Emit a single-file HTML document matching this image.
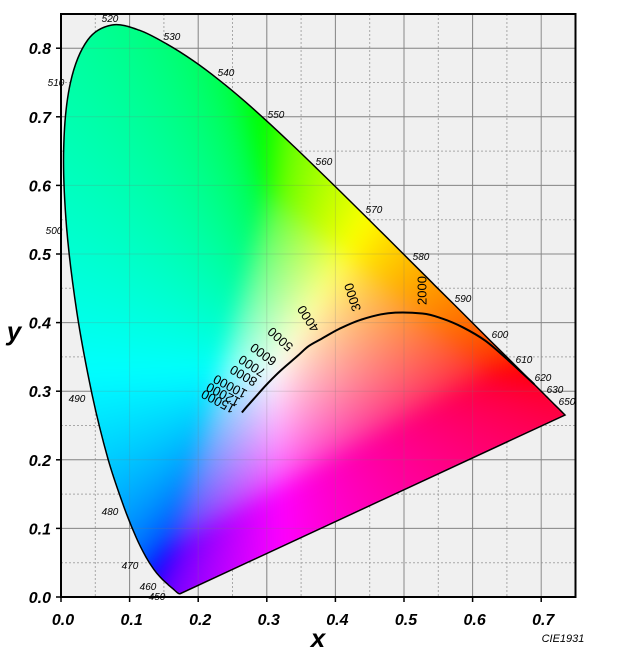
<!DOCTYPE html>
<html><head><meta charset="utf-8"><style>
html,body{margin:0;padding:0;background:#fff;}
#wrap{position:relative;width:630px;height:660px;overflow:hidden;font-family:"Liberation Sans",sans-serif;}
svg,canvas{position:absolute;left:0;top:0;}
</style></head><body><div id="wrap">
<svg width="630" height="660" id="bg">
<rect x="61" y="14" width="514.5" height="583" fill="#f0f0f0"/>
<g stroke="#a8a8a8" stroke-width="1" stroke-dasharray="2,2">
<line x1="95.3" y1="14" x2="95.3" y2="597"/><line x1="163.9" y1="14" x2="163.9" y2="597"/><line x1="232.5" y1="14" x2="232.5" y2="597"/><line x1="301.1" y1="14" x2="301.1" y2="597"/><line x1="369.7" y1="14" x2="369.7" y2="597"/><line x1="438.3" y1="14" x2="438.3" y2="597"/><line x1="506.9" y1="14" x2="506.9" y2="597"/>
<line x1="61" y1="562.7" x2="575.5" y2="562.7"/><line x1="61" y1="494.1" x2="575.5" y2="494.1"/><line x1="61" y1="425.5" x2="575.5" y2="425.5"/><line x1="61" y1="356.9" x2="575.5" y2="356.9"/><line x1="61" y1="288.3" x2="575.5" y2="288.3"/><line x1="61" y1="219.7" x2="575.5" y2="219.7"/><line x1="61" y1="151.1" x2="575.5" y2="151.1"/><line x1="61" y1="82.5" x2="575.5" y2="82.5"/><line x1="61" y1="13.9" x2="575.5" y2="13.9"/>
</g>
<g stroke="#8c8c8c" stroke-width="1">
<line x1="129.6" y1="14" x2="129.6" y2="597"/><line x1="198.2" y1="14" x2="198.2" y2="597"/><line x1="266.8" y1="14" x2="266.8" y2="597"/><line x1="335.4" y1="14" x2="335.4" y2="597"/><line x1="404" y1="14" x2="404" y2="597"/><line x1="472.6" y1="14" x2="472.6" y2="597"/><line x1="541.2" y1="14" x2="541.2" y2="597"/>
<line x1="61" y1="528.4" x2="575.5" y2="528.4"/><line x1="61" y1="459.8" x2="575.5" y2="459.8"/><line x1="61" y1="391.2" x2="575.5" y2="391.2"/><line x1="61" y1="322.6" x2="575.5" y2="322.6"/><line x1="61" y1="254" x2="575.5" y2="254"/><line x1="61" y1="185.4" x2="575.5" y2="185.4"/><line x1="61" y1="116.8" x2="575.5" y2="116.8"/><line x1="61" y1="48.2" x2="575.5" y2="48.2"/>
</g>
</svg>
<canvas id="cv" width="630" height="660"></canvas>
<svg width="630" height="660" id="fg">
<g stroke="#777" stroke-opacity="0.22" stroke-width="1">
<line x1="129.6" y1="14" x2="129.6" y2="597"/><line x1="198.2" y1="14" x2="198.2" y2="597"/><line x1="266.8" y1="14" x2="266.8" y2="597"/><line x1="335.4" y1="14" x2="335.4" y2="597"/><line x1="404" y1="14" x2="404" y2="597"/><line x1="472.6" y1="14" x2="472.6" y2="597"/>
<line x1="61" y1="528.4" x2="575.5" y2="528.4"/><line x1="61" y1="459.8" x2="575.5" y2="459.8"/><line x1="61" y1="391.2" x2="575.5" y2="391.2"/><line x1="61" y1="322.6" x2="575.5" y2="322.6"/><line x1="61" y1="254" x2="575.5" y2="254"/><line x1="61" y1="185.4" x2="575.5" y2="185.4"/><line x1="61" y1="116.8" x2="575.5" y2="116.8"/><line x1="61" y1="48.2" x2="575.5" y2="48.2"/>
</g>
<path id="locus" fill="none" stroke="#000" stroke-width="1.5"/>
<path id="planck" fill="none" stroke="#000" stroke-width="2"/>
<rect x="61" y="14" width="514.5" height="583" fill="none" stroke="#000" stroke-width="2"/>
<g stroke="#000" stroke-width="1.5">
<line x1="56" y1="597" x2="61" y2="597"/><line x1="56" y1="528.4" x2="61" y2="528.4"/><line x1="56" y1="459.8" x2="61" y2="459.8"/><line x1="56" y1="391.2" x2="61" y2="391.2"/><line x1="56" y1="322.6" x2="61" y2="322.6"/><line x1="56" y1="254" x2="61" y2="254"/><line x1="56" y1="185.4" x2="61" y2="185.4"/><line x1="56" y1="116.8" x2="61" y2="116.8"/><line x1="56" y1="48.2" x2="61" y2="48.2"/>
<line x1="61" y1="597" x2="61" y2="602"/><line x1="129.6" y1="597" x2="129.6" y2="602"/><line x1="198.2" y1="597" x2="198.2" y2="602"/><line x1="266.8" y1="597" x2="266.8" y2="602"/><line x1="335.4" y1="597" x2="335.4" y2="602"/><line x1="404" y1="597" x2="404" y2="602"/><line x1="472.6" y1="597" x2="472.6" y2="602"/><line x1="541.2" y1="597" x2="541.2" y2="602"/>
</g>
<g font-family="Liberation Sans, sans-serif" font-weight="bold" font-style="italic" font-size="16" fill="#000" text-anchor="end">
<text x="51" y="603">0.0</text><text x="51" y="534.4">0.1</text><text x="51" y="465.8">0.2</text><text x="51" y="397.2">0.3</text><text x="51" y="328.6">0.4</text><text x="51" y="260">0.5</text><text x="51" y="191.4">0.6</text><text x="51" y="122.8">0.7</text><text x="51" y="54.2">0.8</text>
</g>
<g font-family="Liberation Sans, sans-serif" font-weight="bold" font-style="italic" font-size="16" fill="#000" text-anchor="middle">
<text x="63" y="625">0.0</text><text x="131.6" y="625">0.1</text><text x="200.2" y="625">0.2</text><text x="268.8" y="625">0.3</text><text x="337.4" y="625">0.4</text><text x="406" y="625">0.5</text><text x="474.6" y="625">0.6</text><text x="543.2" y="625">0.7</text>
</g>
<text x="318" y="647" font-family="Liberation Sans, sans-serif" font-weight="bold" font-style="italic" font-size="26" text-anchor="middle">x</text>
<text x="14" y="340" font-family="Liberation Sans, sans-serif" font-weight="bold" font-style="italic" font-size="26" text-anchor="middle">y</text>
<text x="563" y="642" font-family="Liberation Sans, sans-serif" font-style="italic" font-size="11" text-anchor="middle">CIE1931</text>
<g font-family="Liberation Sans, sans-serif" font-style="italic" font-size="10" fill="#000" text-anchor="middle">
<text x="110" y="22">520</text><text x="172" y="40">530</text><text x="226" y="76">540</text><text x="276" y="118">550</text><text x="324" y="165">560</text><text x="374" y="213">570</text><text x="421" y="260">580</text><text x="463" y="302">590</text><text x="500" y="338">600</text><text x="524" y="363">610</text><text x="543" y="381">620</text><text x="555" y="393">630</text><text x="567" y="405">650</text>
<text x="56" y="86">510</text><text x="54" y="234">500</text><text x="77" y="402">490</text><text x="110" y="515">480</text><text x="130" y="569">470</text><text x="148" y="590">460</text><text x="157" y="600">450</text>
</g>
<g font-family="Liberation Sans, sans-serif" font-size="13" fill="#000" dominant-baseline="central">
<text transform="translate(234,410) rotate(208)">15000</text>
<text transform="translate(239,403) rotate(208)">12000</text>
<text transform="translate(246,395) rotate(208)">10000</text>
<text transform="translate(256,383) rotate(210)">8000</text>
<text transform="translate(264,374) rotate(213)">7000</text>
<text transform="translate(275,363) rotate(216)">6000</text>
<text transform="translate(291,349) rotate(222)">5000</text>
<text transform="translate(316,331) rotate(237)">4000</text>
<text transform="translate(357,311) rotate(252)">3000</text>
<text transform="translate(422,305) rotate(270)">2000</text>
</g>
</svg>
<script>
(function(){
var L=[[0.1741,0.005],[0.1733,0.0048],[0.1726,0.0048],[0.1714,0.0051],[0.1689,0.0069],[0.1644,0.0109],[0.1566,0.0177],[0.151,0.0227],[0.144,0.0297],[0.1355,0.0399],[0.1241,0.0578],[0.1096,0.0868],[0.0913,0.1327],[0.0687,0.2007],[0.0454,0.295],[0.0235,0.4127],[0.0082,0.5384],[0.0039,0.6548],[0.0139,0.7502],[0.0389,0.812],[0.0743,0.8338],[0.1142,0.8262],[0.1547,0.8059],[0.1929,0.7816],[0.2296,0.7543],[0.2658,0.7243],[0.3016,0.6923],[0.3373,0.6589],[0.3731,0.6245],[0.4087,0.5896],[0.4441,0.5547],[0.4788,0.5202],[0.5125,0.4866],[0.5448,0.4544],[0.5752,0.4242],[0.6029,0.3965],[0.627,0.3725],[0.6482,0.3514],[0.6658,0.334],[0.6801,0.3197],[0.6915,0.3083],[0.7006,0.2993],[0.7079,0.292],[0.719,0.2809],[0.726,0.274],[0.73,0.27],[0.7347,0.2653]];
function X(x){return 61+686*x;} function Y(y){return 597-686*y;}
function smooth(pts){var q=pts.map(function(p){return [X(p[0]),Y(p[1])];});
var s='M'+q[0][0].toFixed(1)+','+q[0][1].toFixed(1);
for(var i=0;i<q.length-1;i++){var p0=q[Math.max(0,i-1)],p1=q[i],p2=q[i+1],p3=q[Math.min(q.length-1,i+2)];
var c1=[p1[0]+(p2[0]-p0[0])/6,p1[1]+(p2[1]-p0[1])/6],c2=[p2[0]-(p3[0]-p1[0])/6,p2[1]-(p3[1]-p1[1])/6];
s+='C'+c1[0].toFixed(1)+','+c1[1].toFixed(1)+' '+c2[0].toFixed(1)+','+c2[1].toFixed(1)+' '+p2[0].toFixed(1)+','+p2[1].toFixed(1);}
return s;}
var d=smooth(L)+'Z';
document.getElementById('locus').setAttribute('d',d);
var P=[[0.2637,0.269],[0.2715,0.2781],[0.2806,0.2883],[0.2952,0.3048],[0.3064,0.3166],[0.3221,0.3318],[0.3451,0.3516],[0.3611,0.3658],[0.3805,0.3768],[0.4053,0.3907],[0.4369,0.4041],[0.477,0.4137],[0.5267,0.4133],[0.5557,0.4058],[0.5857,0.3931],[0.6185,0.3736],[0.6528,0.3444],[0.69,0.31]];
document.getElementById('planck').setAttribute('d',smooth(P));
var off=document.createElement('canvas');off.width=630;off.height=660;var o=off.getContext('2d');
var img=o.createImageData(630,660),a=img.data;
function g(v){v=Math.max(0,Math.min(1,v));return v<=0.0031308?12.92*v:1.055*Math.pow(v,1/2.4)-0.055;}
for(var py=0;py<660;py++)for(var px=0;px<630;px++){var i=(py*630+px)*4;
var x=(px+0.5-61)/686,y=(597-py-0.5)/686;
x=Math.max(0.003,Math.min(0.735,x));y=Math.max(0.006,Math.min(0.84,y));
if(x+y>1){var s=x+y;x/=s;y/=s;}
var Xc=x/y,Zc=(1-x-y)/y;
var r=3.2406*Xc-1.5372-0.4986*Zc,gg=-0.9689*Xc+1.8758+0.0415*Zc,b=0.0557*Xc-0.204+1.057*Zc;
var mn=Math.min(r,gg,b);if(mn<0){r-=mn*0.6;gg-=mn*0.6;b-=mn*0.6;}
r=Math.max(0,r);gg=Math.max(0,gg);b=Math.max(0,b);var m=Math.max(r,gg,b)||1;
a[i]=255*g(r/m);a[i+1]=255*g(gg/m);a[i+2]=255*g(b/m);a[i+3]=255;}
o.putImageData(img,0,0);
var cv=document.getElementById('cv'),c=cv.getContext('2d');
c.save();c.clip(new Path2D(d));
try{c.filter='blur(10px)';}catch(e){}
c.drawImage(off,0,0);c.restore();
})();
</script>
</div></body></html>
